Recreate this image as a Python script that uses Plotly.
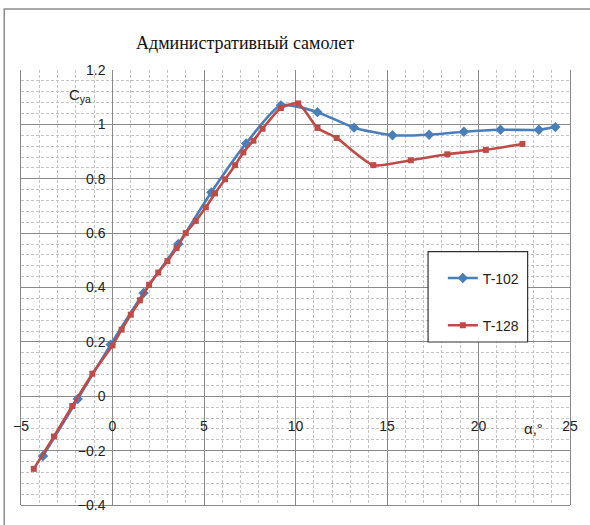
import plotly.graph_objects as go

# ---- data ----
t102_alpha = [-3.8, -1.9, -0.1, 1.7, 3.6, 5.4, 7.3, 9.2, 11.2, 13.2, 15.3, 17.3, 19.2, 21.2, 23.3, 24.2]
t102_cy    = [-0.22, -0.01, 0.19, 0.38, 0.56, 0.75, 0.93, 1.07, 1.045, 0.988, 0.96, 0.962, 0.973, 0.98, 0.98, 0.99]

t128_alpha = [-4.3, -3.2, -2.2, -1.1, 0.0, 0.5, 1.0, 1.5, 2.0, 2.5, 3.0, 3.5, 4.0, 4.55, 5.1, 5.6,
              6.15, 6.7, 7.15, 7.7, 8.2, 9.2, 10.15, 11.2, 12.25, 14.25, 16.3, 18.3, 20.4, 22.4]
t128_cy    = [-0.267, -0.148, -0.036, 0.083, 0.187, 0.245, 0.30, 0.353, 0.41, 0.455, 0.497, 0.545, 0.60, 0.645, 0.695, 0.746,
              0.798, 0.85, 0.897, 0.94, 0.984, 1.06, 1.077, 0.987, 0.95, 0.85, 0.868, 0.89, 0.906, 0.928]

x_range = [-5, 25]
y_range = [-0.4, 1.2]
title_text = "Административный самолет"
series_names = ["T-102", "T-128"]

BLUE = "#4A7EBB"
RED = "#BE4B48"
FONT = "Liberation Sans Narrow, Liberation Sans, Arial"

fig = go.Figure()
fig.add_trace(go.Scatter(
    x=t102_alpha, y=t102_cy, name=series_names[0], mode="lines+markers",
    line=dict(color=BLUE, width=2.6, shape="spline", smoothing=0.6),
    marker=dict(symbol="diamond", size=8, color=BLUE),
    legendgroup="a",
))
fig.add_trace(go.Scatter(
    x=t128_alpha, y=t128_cy, name=series_names[1], mode="lines+markers",
    line=dict(color=RED, width=2.6, shape="spline", smoothing=0.6),
    marker=dict(symbol="square", size=6, color=RED),
    legendgroup="b",
))

L, R, T, B = 21, 12, 70, 12
W, H = 590, 525
pw, ph = W - L - R, H - T - B

def px_to_paper_x(px):
    return (px - L) / pw

def px_to_paper_y(py):
    return (H - B - py) / ph

x0_frac = (0 - x_range[0]) / (x_range[1] - x_range[0])
y0_frac = (0 - y_range[0]) / (y_range[1] - y_range[0])

fig.update_layout(
    width=W, height=H,
    margin=dict(l=L, r=R, t=T, b=B),
    paper_bgcolor="white", plot_bgcolor="white",
    showlegend=True,
    legend=dict(
        x=px_to_paper_x(449), y=px_to_paper_y(266), xanchor="left", yanchor="top",
        bgcolor="rgba(0,0,0,0)", borderwidth=0,
        font=dict(family=FONT, size=14, color="#222"),
        tracegroupgap=26, traceorder="grouped", itemwidth=30,
    ),
    xaxis=dict(
        range=x_range, dtick=5, tick0=0,
        showgrid=True, gridcolor="#8a8a8a", gridwidth=1,
        zeroline=True, zerolinecolor="#8a8a8a", zerolinewidth=1,
        minor=dict(dtick=1, showgrid=True, gridcolor="#c4c4c4", griddash="3px,2px", gridwidth=1),
        showline=True, linecolor="#8a8a8a", mirror=True,
        anchor="free", position=0,
        ticks="", showticklabels=False,
    ),
    yaxis=dict(
        range=y_range, dtick=0.2, tick0=0,
        showgrid=True, gridcolor="#8a8a8a", gridwidth=1,
        zeroline=True, zerolinecolor="#8a8a8a", zerolinewidth=1,
        minor=dict(dtick=0.04, showgrid=True, gridcolor="#c4c4c4", griddash="3px,2px", gridwidth=1),
        showline=True, linecolor="#8a8a8a", mirror=True,
        ticks="", showticklabels=False,
    ),
    # axes carrying tick labels positioned at the origin crossing
    xaxis2=dict(
        range=x_range, dtick=5, tick0=0, overlaying="x", anchor="free", position=y0_frac,
        showgrid=False, zeroline=False, showline=False, ticks="",
        tickfont=dict(family=FONT, size=14, color="#222"),
        ticklabelstandoff=20,
    ),
    yaxis2=dict(
        range=y_range, dtick=0.2, tick0=0, overlaying="y", anchor="free", position=x0_frac,
        showgrid=False, zeroline=False, showline=False, ticks="",
        tickfont=dict(family=FONT, size=14, color="#222"),
        tickformat="~g", ticklabelstandoff=7,
    ),
)

# invisible trace to activate the label axes
fig.add_trace(go.Scatter(x=[None], y=[None], xaxis="x2", yaxis="y2", showlegend=False, hoverinfo="skip"))

# title
fig.add_annotation(
    text=title_text, xref="paper", yref="paper",
    x=px_to_paper_x(248), y=px_to_paper_y(42), xanchor="center", yanchor="middle",
    showarrow=False, font=dict(family="Liberation Serif", size=18, color="#111"),
)
# axis titles
fig.add_annotation(
    text="C<sub>ya</sub>", xref="x", yref="y", x=-1.75, y=1.105,
    xanchor="center", yanchor="middle", showarrow=False,
    font=dict(family=FONT, size=15, color="#222"),
)
fig.add_annotation(
    text="α,°", xref="x", yref="y", x=23.0, y=-0.12,
    xanchor="center", yanchor="middle", showarrow=False,
    font=dict(family=FONT, size=15, color="#222"),
)

# legend box
fig.add_shape(
    type="rect", xref="paper", yref="paper",
    x0=px_to_paper_x(434), x1=px_to_paper_x(535), y0=px_to_paper_y(347), y1=px_to_paper_y(255),
    line=dict(color="#333", width=1.2), fillcolor="white", layer="above",
)
# outer chart frame
fig.add_shape(
    type="rect", xref="paper", yref="paper",
    x0=px_to_paper_x(4), x1=px_to_paper_x(600), y0=px_to_paper_y(540), y1=px_to_paper_y(8),
    line=dict(color="#8c8c8c", width=1.5), fillcolor="rgba(0,0,0,0)", layer="below",
)

fig.write_html("out.html")
